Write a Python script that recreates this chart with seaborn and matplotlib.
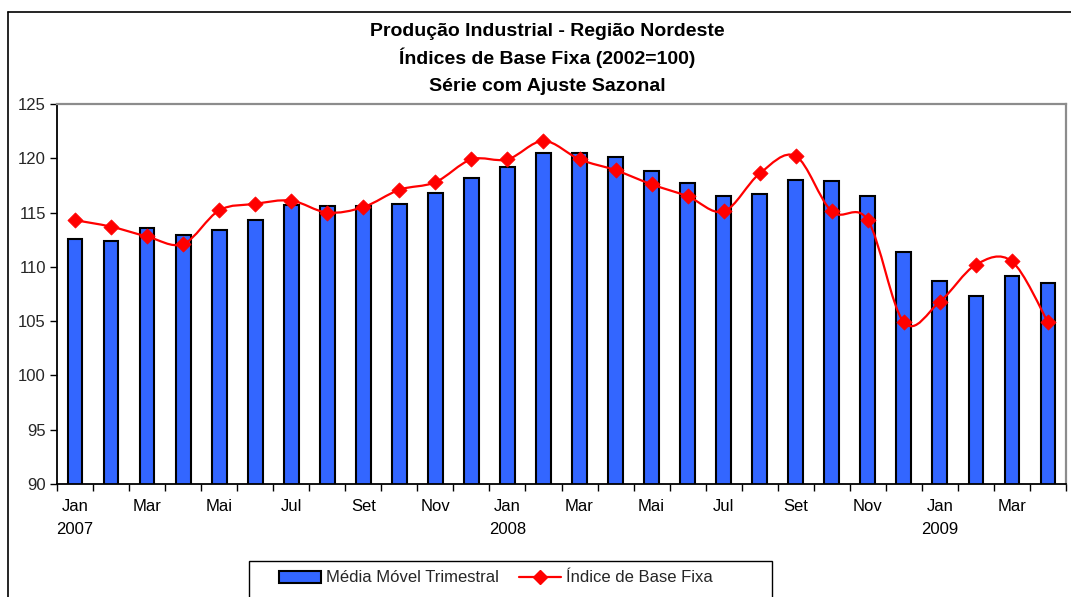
import numpy as np
import pandas as pd
import matplotlib
matplotlib.use("Agg")
import matplotlib.pyplot as plt
import seaborn as sns
from matplotlib.path import Path
from matplotlib.patches import PathPatch, Patch, Rectangle
from matplotlib.lines import Line2D
import matplotlib.transforms as mtransforms

# ---- data ----
months = ["2007-01", "2007-02", "2007-03", "2007-04", "2007-05", "2007-06", "2007-07",
          "2007-08", "2007-09", "2007-10", "2007-11", "2007-12", "2008-01", "2008-02",
          "2008-03", "2008-04", "2008-05", "2008-06", "2008-07", "2008-08", "2008-09",
          "2008-10", "2008-11", "2008-12", "2009-01", "2009-02", "2009-03", "2009-04"]
media_movel = [112.6, 112.4, 113.6, 112.9, 113.4, 114.3, 115.7, 115.6, 115.6, 115.8,
               116.8, 118.2, 119.2, 120.5, 120.5, 120.1, 118.8, 117.7, 116.5, 116.7,
               118.0, 117.9, 116.5, 111.4, 108.7, 107.3, 109.2, 108.5]
indice_base = [114.3, 113.7, 112.8, 112.1, 115.2, 115.8, 116.1, 115.0, 115.5, 117.1,
               117.8, 119.9, 119.9, 121.6, 119.9, 118.9, 117.6, 116.5, 115.1, 118.6,
               120.2, 115.1, 114.3, 104.9, 106.8, 110.2, 110.5, 104.9]
tick_labels = ["Jan", "Mar", "Mai", "Jul", "Set", "Nov",
               "Jan", "Mar", "Mai", "Jul", "Set", "Nov",
               "Jan", "Mar"]
year_labels = ["2007", "2008", "2009"]
title_lines = ["Produção Industrial - Região Nordeste",
               "Índices de Base Fixa (2002=100)",
               "Série com Ajuste Sazonal"]
legend_labels = ["Média Móvel Trimestral", "Índice de Base Fixa"]

df = pd.DataFrame({"mes": months, "media": media_movel, "indice": indice_base})

sns.set_theme(style="white")
plt.rcParams["font.family"] = ["Liberation Sans", "DejaVu Sans"]

W, H = 1071, 597
FS = 12
fig = plt.figure(figsize=(W / 100, H / 100), dpi=100)
ax = fig.add_axes([57 / W, 1 - 484 / H, (1066 - 57) / W, (484 - 104) / H])

BAR_COLOR = "#3366FF"
sns.barplot(data=df, x="mes", y="media", color=BAR_COLOR, saturation=1,
            edgecolor="black", linewidth=1.5, width=0.41, ax=ax, zorder=2)

# smoothed line (Catmull-Rom Bezier through the data points)
xs = np.arange(len(indice_base), dtype=float)
ys = np.array(indice_base, dtype=float)
verts = [(xs[0], ys[0])]
codes = [Path.MOVETO]
n = len(xs)
for i in range(n - 1):
    p0 = np.array([xs[max(i - 1, 0)], ys[max(i - 1, 0)]])
    p1 = np.array([xs[i], ys[i]])
    p2 = np.array([xs[i + 1], ys[i + 1]])
    p3 = np.array([xs[min(i + 2, n - 1)], ys[min(i + 2, n - 1)]])
    c1 = p1 + (p2 - p0) / 6.0
    c2 = p2 - (p3 - p1) / 6.0
    verts += [tuple(c1), tuple(c2), tuple(p2)]
    codes += [Path.CURVE4, Path.CURVE4, Path.CURVE4]
ax.add_patch(PathPatch(Path(verts, codes), facecolor="none", edgecolor="#FF0000",
                       lw=1.6, zorder=3))
sns.scatterplot(x=xs, y=ys, marker="D", s=60, color="#FF0000", edgecolor="#FF0000",
                linewidth=0.5, ax=ax, zorder=4, legend=False)

ax.set_ylim(90, 125)
ax.set_xlim(-0.5, len(months) - 0.5)
ax.set_yticks(np.arange(90, 126, 5))
ax.set_xticks(np.arange(0, len(months), 2))
ax.set_xticklabels(tick_labels)
ax.set_xticks(np.arange(-0.5, len(months), 1.0), minor=True)
ax.tick_params(axis="x", which="major", length=0, pad=11, labelsize=FS, colors="black")
ax.tick_params(axis="x", which="minor", length=5, width=1, direction="out",
               color="black", bottom=True)
ax.tick_params(axis="y", which="major", length=5, width=1, direction="out",
               color="black", left=True, labelsize=FS, pad=3)
ax.set_xlabel("")
ax.set_ylabel("")
for s in ["left", "bottom"]:
    ax.spines[s].set_color("black")
    ax.spines[s].set_linewidth(1.3)
for s in ["top", "right"]:
    ax.spines[s].set_color("#8C8C8C")
    ax.spines[s].set_linewidth(1.6)
ax.spines["bottom"].set_zorder(5)

# year labels under Jan ticks
trans = mtransforms.blended_transform_factory(ax.transData, fig.transFigure)
for k, yl in enumerate(year_labels):
    ax.text(k * 12, 1 - 529 / H, yl, transform=trans, ha="center", va="center",
            fontsize=FS, color="black")

# title
baselines = [36.0, 64.0, 91.0]
for k, t in enumerate(title_lines):
    fig.text(547 / W, 1 - baselines[k] / H, t, ha="center", va="baseline",
             fontsize=14, fontweight="bold", color="black")

# outer chart frame (left and top edges visible)
fig.add_artist(Line2D([8 / W, 8 / W], [0, 1 - 12 / H], transform=fig.transFigure,
                      color="black", lw=1.2))
fig.add_artist(Line2D([8 / W, 1], [1 - 12 / H, 1 - 12 / H], transform=fig.transFigure,
                      color="black", lw=1.2))

# legend frame and entries
fig.add_artist(Rectangle((249 / W, -0.05), (772 - 249) / W, 0.05 + 1 - 561 / H,
                         transform=fig.transFigure, facecolor="white",
                         edgecolor="black", lw=1.0, zorder=1))
handles = [Patch(facecolor=BAR_COLOR, edgecolor="black", linewidth=1.5),
           Line2D([], [], color="#FF0000", lw=1.6, marker="D", markersize=7)]
starts = [279, 519]
for h, lab, x0 in zip(handles, legend_labels, starts):
    lg = fig.legend([h], [lab], loc="center left",
                    bbox_to_anchor=(x0 / W, 1 - 578 / H),
                    frameon=False, fontsize=FS, handlelength=2.5,
                    handletextpad=0.3, borderpad=0, borderaxespad=0)
    lg.set_zorder(2)

fig.savefig("out.png", dpi=100, facecolor="white")
